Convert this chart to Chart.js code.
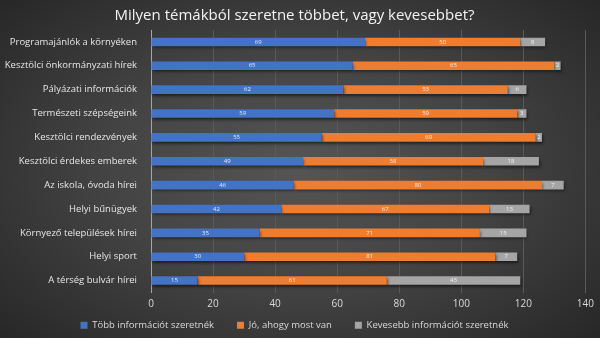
<!DOCTYPE html>
<html>
<head>
<meta charset="utf-8">
<style>
  body {
    margin: 0;
    background: #2b2b2b;
  }
  .wrap {
    position: relative;
    width: 600px;
    height: 338px;
    background: radial-gradient(ellipse 70% 75% at 50% 50%, #555555 0%, #444444 45%, #2e2e2e 85%, #262626 100%);
  }
</style>
</head>
<body>
<div class="wrap">
  <canvas id="topicChart" width="600" height="338"></canvas>
</div>
<script src="https://cdn.jsdelivr.net/npm/chart.js"></script>
<script>
  const categories = [
    "Programajánlók a környéken",
    "Kesztölci önkormányzati hírek",
    "Pályázati információk",
    "Természeti szépségeink",
    "Kesztölci rendezvények",
    "Kesztölci érdekes emberek",
    "Az iskola, óvoda hírei",
    "Helyi bűnügyek",
    "Környező települések hírei",
    "Helyi sport",
    "A térség bulvár hírei",
  ];
  const moreInfo = [69, 65, 62, 59, 55, 49, 46, 42, 35, 30, 15];
  const asItIs = [50, 65, 53, 59, 69, 58, 80, 67, 71, 81, 61];
  const lessInfo = [8, 2, 6, 3, 2, 18, 7, 13, 15, 7, 43];
  const xTicks = [0, 20, 40, 60, 80, 100, 120, 140];

  // bar shadow like the office chart
  const barShadow = {
    id: "barShadow",
    beforeDatasetsDraw(chart) {
      const c = chart.ctx;
      c.save();
      c.shadowColor = "rgba(0,0,0,0.55)";
      c.shadowBlur = 3;
      c.shadowOffsetX = 1;
      c.shadowOffsetY = 2;
    },
    afterDatasetsDraw(chart) {
      chart.ctx.restore();
    },
  };

  // small value labels in the middle of every segment
  const valueLabels = {
    id: "valueLabels",
    afterDatasetsDraw(chart) {
      const c = chart.ctx;
      c.save();
      c.font = "6px 'Open Sans', sans-serif";
      c.fillStyle = "rgba(255,255,255,0.85)";
      c.textAlign = "center";
      c.textBaseline = "middle";
      chart.data.datasets.forEach((ds, i) => {
        chart.getDatasetMeta(i).data.forEach((bar, j) => {
          const cx = (bar.x + bar.base) / 2;
          c.fillText(ds.data[j], cx, bar.y);
        });
      });
      c.restore();
    },
  };

  const ctx = document.getElementById("topicChart").getContext("2d");
  new Chart(ctx, {
    type: "bar",
    data: {
      labels: categories,
      datasets: [
        { label: "Több információt szeretnék", data: moreInfo, backgroundColor: "#4472c4" },
        { label: "Jó, ahogy most van", data: asItIs, backgroundColor: "#ed7d31" },
        { label: "Kevesebb információt szeretnék", data: lessInfo, backgroundColor: "#a5a5a5" },
      ],
    },
    options: {
      indexAxis: "y",
      responsive: false,
      animation: false,
      events: [],
      datasets: {
        bar: { barPercentage: 0.8, categoryPercentage: 0.45 },
      },
      layout: { padding: { left: 0, right: 11, top: 2, bottom: -2 } },
      scales: {
        x: {
          stacked: true,
          min: 0,
          max: 140,
          afterBuildTicks: (scale) => {
            scale.ticks = xTicks.map((v) => ({ value: v }));
          },
          grid: { color: "#5a5a5a", drawTicks: false },
          border: { display: false },
          ticks: {
            color: "#d9d9d9",
            padding: 6,
            font: { family: "'Open Sans', sans-serif", size: 10 },
          },
        },
        y: {
          stacked: true,
          grid: { display: false },
          border: { display: true, color: "#a6a6a6", width: 1 },
          ticks: {
            color: "#e6e6e6",
            padding: 6,
            font: { family: "'Open Sans', sans-serif", size: 9.5 },
          },
          afterFit: (scale) => {
            scale.width = 151;
          },
        },
      },
      plugins: {
        title: {
          display: true,
          text: "Milyen témákból szeretne többet, vagy kevesebbet?",
          color: "#f2f2f2",
          font: { family: "'Open Sans', sans-serif", size: 15, weight: "normal" },
          padding: { top: 5, bottom: 5 },
        },
        legend: {
          position: "bottom",
          labels: {
            color: "#d9d9d9",
            boxWidth: 7,
            boxHeight: 7,
            padding: 4,
            font: { family: "'Open Sans', sans-serif", size: 9.5 },
            // wider gap after each item without a taller legend box
            generateLabels: (chart) => {
              const items = Chart.defaults.plugins.legend.labels.generateLabels(chart);
              items.forEach((item, i) => {
                if (i < items.length - 1) item.text += "\u2003\u2003";
              });
              return items;
            },
          },
        },
        tooltip: { enabled: false },
      },
    },
    plugins: [barShadow, valueLabels],
  });
</script>
</body>
</html>
